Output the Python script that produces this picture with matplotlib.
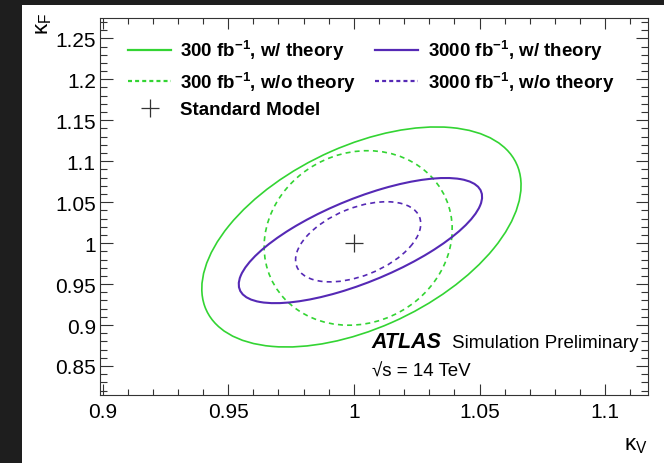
import matplotlib
matplotlib.use("Agg")
import matplotlib.pyplot as plt
import numpy as np
from matplotlib.lines import Line2D
from matplotlib.patches import Ellipse, Rectangle
from matplotlib.ticker import MultipleLocator

plt.rcParams["font.family"] = ["Liberation Sans", "DejaVu Sans"]
plt.rcParams["mathtext.fontset"] = "custom"
plt.rcParams["mathtext.rm"] = "Liberation Sans"
plt.rcParams["mathtext.bf"] = "Liberation Sans:bold"
plt.rcParams["mathtext.it"] = "Liberation Sans:italic"

# 68% CL contours in the (kappa_V, kappa_F) plane
contour_labels = [
    r"300 fb$^{\mathbf{-1}}$, w/ theory",
    r"300 fb$^{\mathbf{-1}}$, w/o theory",
    r"3000 fb$^{\mathbf{-1}}$, w/ theory",
    r"3000 fb$^{\mathbf{-1}}$, w/o theory",
]
center_kv = [1.003, 1.0017, 1.0026, 1.0017]
center_kf = [1.0075, 1.0063, 1.0031, 1.0016]
sigma_kv = [0.0635, 0.0374, 0.0484, 0.0249]
sigma_kf = [0.1343, 0.1065, 0.0764, 0.0489]
rho = [0.47, 0.10, 0.70, 0.45]

sm_point = (1.0, 1.0)

GREEN = "#33d433"
PURPLE = "#5529b5"
colors = [GREEN, GREEN, PURPLE, PURPLE]
styles = ["-", (0, (3, 2.5)), "-", (0, (3, 2.5))]
widths = [1.2, 1.2, 1.5, 1.2]


def contour_ellipse(cx, cy, sx, sy, r, **kw):
    cov = np.array([[sx * sx, r * sx * sy], [r * sx * sy, sy * sy]])
    vals, vecs = np.linalg.eigh(cov)
    angle = np.degrees(np.arctan2(vecs[1, 1], vecs[0, 1]))
    return Ellipse((cx, cy), 2 * np.sqrt(vals[1]), 2 * np.sqrt(vals[0]),
                   angle=angle, fill=False, **kw)


fig = plt.figure(figsize=(6.64, 4.64), dpi=100, facecolor="#1e1e1e")
fig.patches.append(Rectangle((22 / 664, 0), 1, 1 - 6 / 464, transform=fig.transFigure,
                             facecolor="white", edgecolor="none", zorder=-10))
ax = fig.add_axes([100 / 664, 1 - 396 / 464, 548 / 664, 377 / 464])

for i in range(4):
    ax.add_patch(contour_ellipse(center_kv[i], center_kf[i], sigma_kv[i], sigma_kf[i], rho[i],
                                 edgecolor=colors[i], linestyle=styles[i], linewidth=widths[i]))
ax.plot(*sm_point, marker="+", markersize=13, markeredgewidth=0.9, color="#333333", linestyle="none")

ax.set_xlim(0.899, 1.117)
ax.set_ylim(0.8146, 1.2748)
ax.xaxis.set_major_locator(MultipleLocator(0.05))
ax.xaxis.set_minor_locator(MultipleLocator(0.01))
ax.yaxis.set_major_locator(MultipleLocator(0.05))
ax.yaxis.set_minor_locator(MultipleLocator(0.01))
ax.xaxis.set_major_formatter(plt.FuncFormatter(lambda v, p: f"{v:g}"))
ax.yaxis.set_major_formatter(plt.FuncFormatter(lambda v, p: f"{v:g}"))
ax.tick_params(which="both", direction="in", top=True, right=True, labelsize=15, width=0.8, color="#333333")
ax.tick_params(axis="x", which="major", length=8, pad=5)
ax.tick_params(axis="x", which="minor", length=4)
ax.tick_params(axis="y", which="major", length=9, pad=3)
ax.tick_params(axis="y", which="minor", length=5)
for sp in ax.spines.values():
    sp.set_linewidth(0.8)
    sp.set_color("#333333")

fig.text(648 / 664, 1 - 445 / 464, r"κ$_{\mathregular{V}}$", fontsize=16, ha="right", va="center")
fig.text(43 / 664, 1 - 13 / 464, r"κ$_{\mathregular{F}}$", fontsize=16, rotation=90, ha="center", va="top")

ax.text(0.4945, 0.127, "ATLAS", transform=ax.transAxes, fontsize=15.5,
        fontweight="bold", fontstyle="italic")
ax.text(0.642, 0.127, "Simulation Preliminary", transform=ax.transAxes, fontsize=13.5)
ax.text(0.496, 0.050, "√s = 14 TeV", transform=ax.transAxes, fontsize=13.5)

handles = [
    Line2D([], [], color=colors[0], linestyle=styles[0], linewidth=1.6),
    Line2D([], [], color=colors[1], linestyle=(0, (1.8, 1.4)), linewidth=1.6),
    Line2D([], [], color="#333333", marker="+", markersize=13, markeredgewidth=0.9, linestyle="none"),
    Line2D([], [], color=colors[2], linestyle=styles[2], linewidth=1.6),
    Line2D([], [], color=colors[3], linestyle=(0, (1.8, 1.4)), linewidth=1.6),
]
labels = [contour_labels[0], contour_labels[1], "Standard Model", contour_labels[2], contour_labels[3]]
ax.legend(handles, labels, ncols=2, loc="upper left", bbox_to_anchor=(0.051, 0.947),
          frameon=False, prop={"size": 13.5, "weight": "bold"}, handlelength=2.3,
          handletextpad=0.5, columnspacing=1.0, labelspacing=0.4, borderpad=0, borderaxespad=0)

fig.savefig("out.png", dpi=100, facecolor=fig.get_facecolor())
